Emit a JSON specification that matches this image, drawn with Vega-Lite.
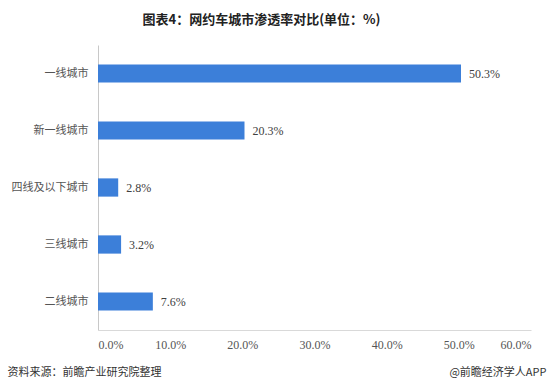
{
  "$schema": "https://vega.github.io/schema/vega-lite/v6.json",
  "autosize": {"type": "none"},
  "width": 433,
  "height": 285,
  "padding": {"left": 98, "top": 45, "right": 19, "bottom": 61},
  "background": "white",
  "title": {
    "text": "图表4：网约车城市渗透率对比(单位：%)",
    "font": "Noto Sans CJK SC",
    "fontSize": 13,
    "fontWeight": "bold",
    "color": "#222222",
    "anchor": "middle",
    "dx": -53,
    "offset": 18
  },
  "data": {
    "values": [
      {"city": "一线城市", "rate": 50.3},
      {"city": "新一线城市", "rate": 20.3},
      {"city": "四线及以下城市", "rate": 2.8},
      {"city": "三线城市", "rate": 3.2},
      {"city": "二线城市", "rate": 7.6}
    ]
  },
  "config": {"view": {"stroke": null}},
  "encoding": {
    "y": {
      "field": "city",
      "type": "nominal",
      "sort": null,
      "scale": {"paddingInner": 0.68, "paddingOuter": 0.34},
      "axis": {
        "title": null,
        "ticks": false,
        "domainColor": "#c8c8c8",
        "labelFont": "Noto Sans CJK SC",
        "labelFontSize": 11,
        "labelColor": "#555555",
        "labelPadding": 10
      }
    }
  },
  "layer": [
    {
      "mark": {"type": "bar", "color": "#3C7FD9"},
      "encoding": {
        "x": {
          "field": "rate",
          "type": "quantitative",
          "scale": {"domain": [0, 60], "nice": false},
          "axis": {
            "orient": "bottom",
            "values": [0, 10, 20, 30, 40, 50, 60],
            "labelExpr": "format(datum.value, '.1f') + '%'",
            "grid": false,
            "ticks": false,
            "domainColor": "#d9d9d9",
            "labelFont": "Liberation Serif",
            "labelFontSize": 12,
            "labelColor": "#555555",
            "labelPadding": 9,
            "title": "资料来源：前瞻产业研究院整理",
            "titleFont": "Noto Sans CJK SC",
            "titleFontSize": 11,
            "titleFontWeight": "normal",
            "titleColor": "#333333",
            "titleAnchor": "start",
            "titleAlign": "left",
            "titleBaseline": "middle",
            "titleX": -91,
            "titleY": 42
          }
        }
      }
    },
    {
      "transform": [{"calculate": "format(datum.rate, '.1f') + '%'", "as": "label"}],
      "mark": {
        "type": "text",
        "align": "left",
        "dx": 8,
        "font": "Liberation Serif",
        "fontSize": 12,
        "color": "#404040"
      },
      "encoding": {
        "x": {
          "field": "rate",
          "type": "quantitative",
          "scale": {"domain": [0, 60], "nice": false},
          "axis": {
            "orient": "bottom",
            "labels": false,
            "ticks": false,
            "domain": false,
            "grid": false,
            "title": "@前瞻经济学人APP",
            "titleFont": "Noto Sans CJK SC",
            "titleFontSize": 11,
            "titleFontWeight": "normal",
            "titleColor": "#333333",
            "titleAnchor": "start",
            "titleAlign": "right",
            "titleBaseline": "middle",
            "titleX": 448,
            "titleY": 42
          }
        },
        "text": {"field": "label", "type": "nominal"}
      }
    }
  ],
  "resolve": {"scale": {"x": "independent"}, "axis": {"x": "independent"}}
}
